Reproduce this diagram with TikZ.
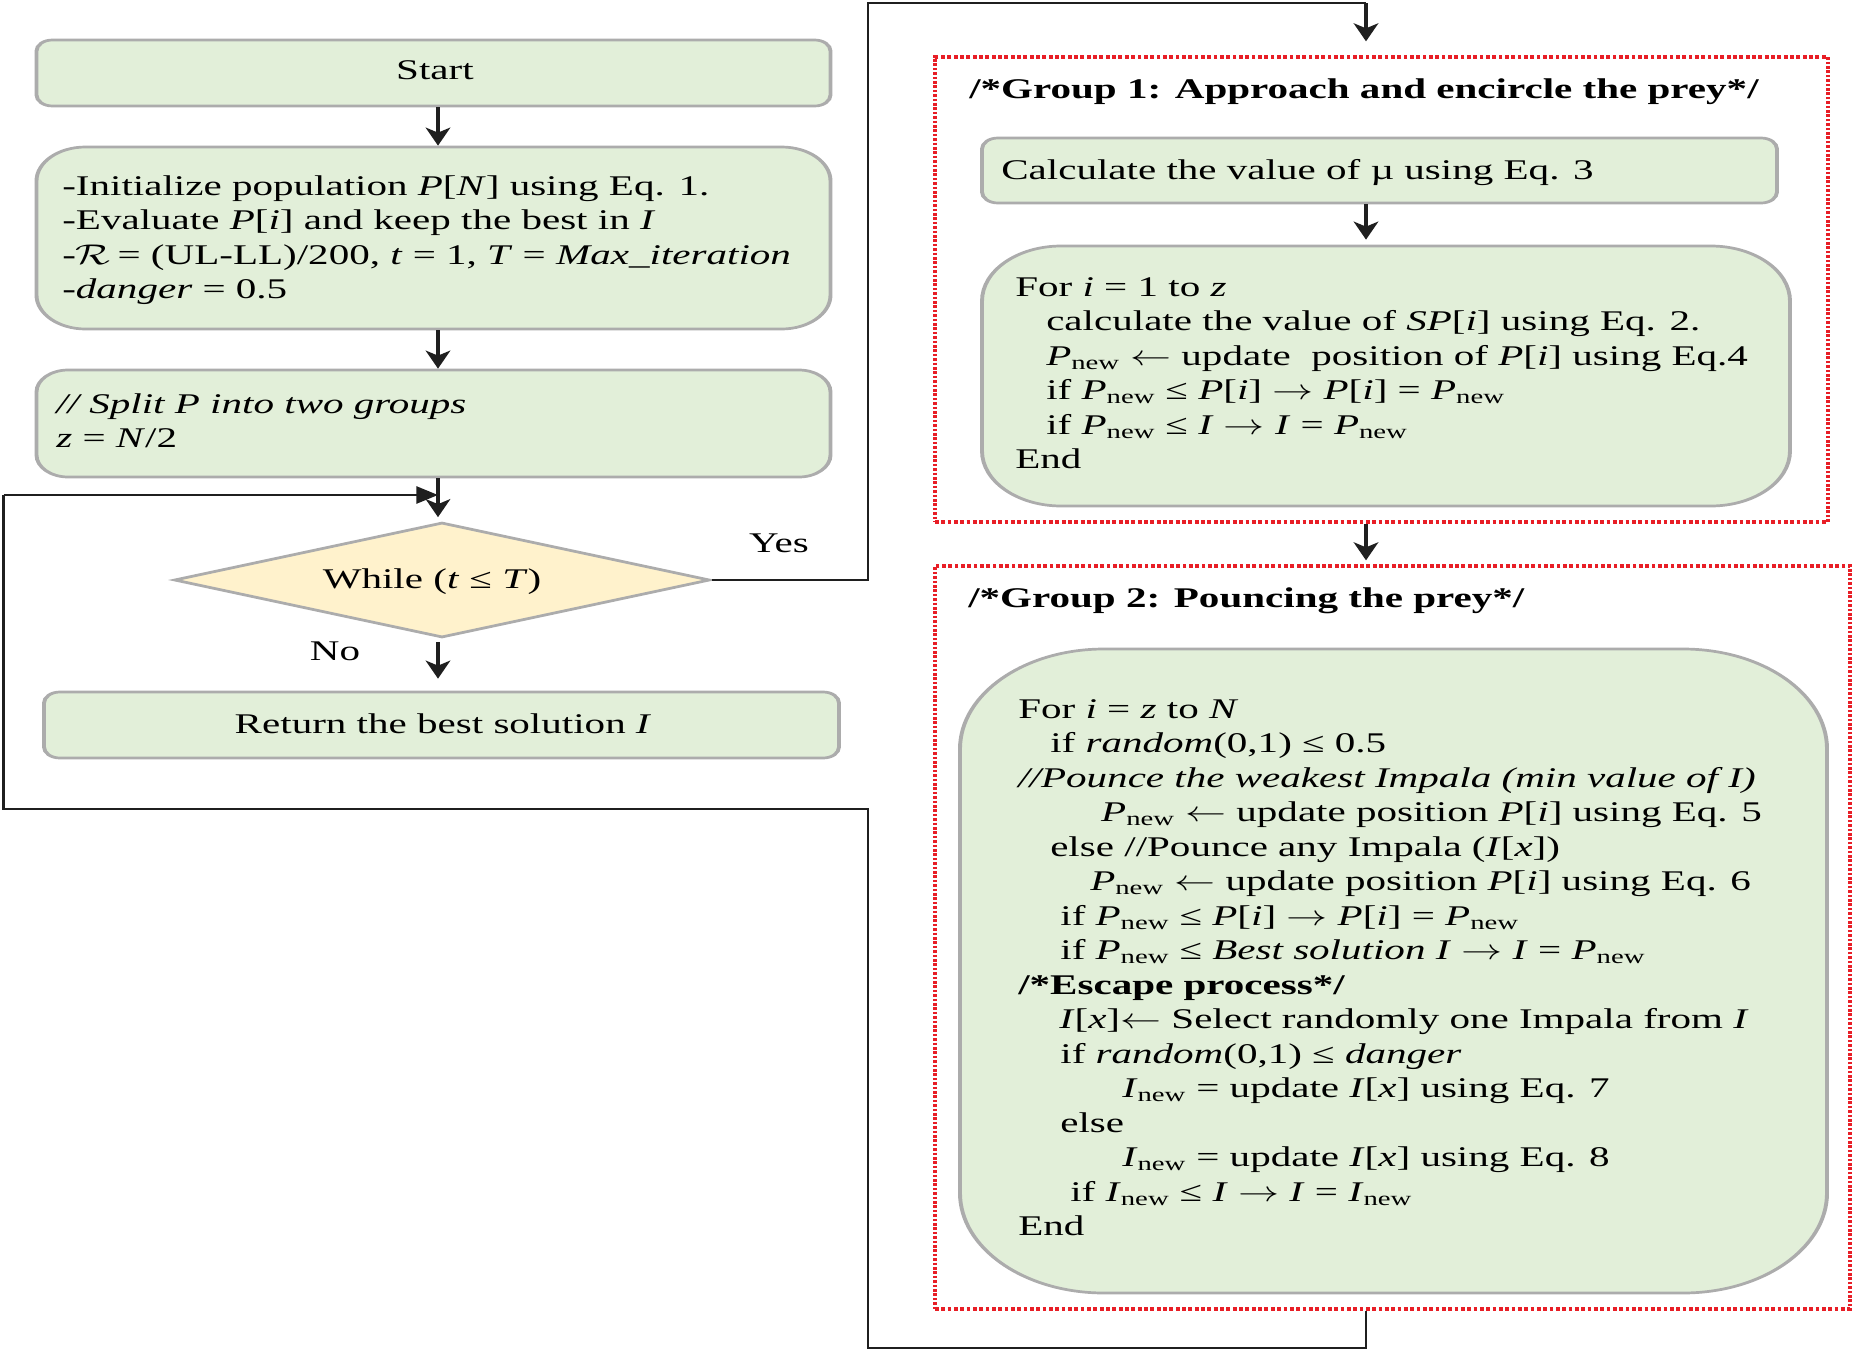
\RequirePackage{fix-cm}
\documentclass[tikz,border=0pt]{standalone}
\usepackage{fontspec}
\setmainfont{Liberation Serif}
\usetikzlibrary{arrows.meta,shapes.geometric}
\definecolor{boxfill}{RGB}{226,239,217}
\definecolor{boxline}{RGB}{172,172,172}
\definecolor{diafill}{RGB}{255,242,204}
\definecolor{dotred}{RGB}{232,30,38}
\newcommand{\vi}[1]{\textit{#1}}
\newcommand{\Pn}{\textit{P}\textsubscript{new}}
\newcommand{\In}{\textit{I}\textsubscript{new}}
\newcommand{\ind}[1]{\hspace*{#1pt}}
\newcommand{\ra}{$\rightarrow$}
\newcommand{\la}{$\leftarrow$}
\tikzset{
  box/.style={draw=boxline, line width=2.7pt, fill=boxfill, inner sep=0pt},
  txt/.style={inner sep=0pt, anchor=base west, align=left, font=\fontsize{28.5}{34.5}\selectfont},
  btxt/.style={inner sep=0pt, anchor=base west, align=left, font={\fontsize{28.5}{34.5}\selectfont\bfseries}},
  ctxt/.style={inner sep=0pt, anchor=base, font=\fontsize{28.5}{34.5}\selectfont},
  arr/.style={-{Stealth[length=18pt,width=17pt,inset=5pt]}, line width=2.8pt, draw=black!88, fill=black!88},
  looparr/.style={-{Triangle[length=15pt,width=17pt]}, line width=2.6pt, draw=black!88, fill=black!88},
  wire/.style={line width=1.6pt, draw=black!88},
  grp/.style={draw=dotred, line width=3.3pt, dash pattern=on 2.6pt off 1.8pt, inner sep=0pt},
}
\begin{document}
\begin{tikzpicture}[x=1pt,y=-1pt]
\path[use as bounding box, fill=white] (0,0) rectangle (1855,1352);
\begin{scope}[transform canvas={xscale=1.44}, x=0.69444pt]
% group frames
\node[grp, minimum width=620.1pt, minimum height=465pt] (red1) at (1381.5,289.5) {};
\node[grp, minimum width=635.4pt, minimum height=743pt] (red2) at (1392.5,937.5) {};
% left column
\node[box, rounded corners=11pt, minimum width=551.4pt, minimum height=66pt] (start) at (433.5,73) {};
\node[box, rounded corners=34pt, minimum width=551.4pt, minimum height=182pt] (init) at (433.5,238) {};
\node[box, rounded corners=22pt, minimum width=551.4pt, minimum height=107pt] (split) at (433.5,423.5) {};
\node[diamond, draw=boxline, line width=2.7pt, fill=diafill, inner sep=0pt, minimum width=372.2pt, minimum height=115pt] (dia) at (442,580) {};
\node[box, rounded corners=11pt, minimum width=552.1pt, minimum height=66pt] (ret) at (441.5,725) {};
% right column
\node[box, rounded corners=11pt, minimum width=552.1pt, minimum height=65pt] (calc) at (1379.5,170.5) {};
\node[box, rounded corners=55pt, minimum width=561.1pt, minimum height=260pt] (for1) at (1386,376) {};
\node[box, rounded corners=100pt, minimum width=602.1pt, minimum height=644pt] (for2) at (1393.5,971) {};
% texts (multi-line nodes: base = last line's baseline)
\node[ctxt] (startt) at (435,79) {Start};
\node[txt] (initt) at (62,298.5) {-Initialize population \vi{P}[\vi{N}] using Eq. 1.\\
-Evaluate \vi{P}[\vi{i}] and keep the best in \vi{I}\\
-$\mathcal{R}$\,= (UL-LL)/200, \vi{t} = 1, \vi{T} = \vi{Max\_iteration}\\
-\vi{danger} = 0.5};
\node[txt] (splitt) at (56,447.5) {\vi{// Split P into two groups}\\ \vi{z} = \vi{N}/2};
\node[ctxt] (diat) at (432,588) {While (\vi{t} ≤ \vi{T})};
\node[ctxt] (rett) at (443,733) {Return the best solution \vi{I}};
\node[ctxt] (yes) at (779,552) {Yes};
\node[ctxt] (no) at (335,660) {No};
\node[btxt] (g1) at (969,98) {/*Group 1: Approach and encircle the prey*/};
\node[txt] (calct) at (1001,179) {Calculate the value of µ using Eq. 3};
\node[txt] (for1t) at (1015,468.5) {For \vi{i} = 1 to \vi{z}\\
\ind{21.5}calculate the value of \vi{SP}[\vi{i}] using Eq. 2.\\
\ind{21.5}\Pn{} \la{} update\ \ position of \vi{P}[\vi{i}] using Eq.4\\
\ind{21.5}if \Pn{} ≤ \vi{P}[\vi{i}] \ra{} \vi{P}[\vi{i}] = \Pn\\
\ind{21.5}if \Pn{} ≤ \vi{I} \ra{} \vi{I} = \Pn\\
End};
\node[btxt] (g2) at (968,607) {/*Group 2: Pouncing the prey*/};
\node[txt] (for2t) at (1018,1235.5) {For \vi{i} = \vi{z} to \vi{N}\\
\ind{22.2}if \vi{random}(0,1) ≤ 0.5\\
\vi{//Pounce the weakest Impala (min value of I)}\\
\ind{57.6}\Pn{} \la{} update position \vi{P}[\vi{i}] using Eq. 5\\
\ind{22.2}else //Pounce any Impala (\vi{I}[\vi{x}])\\
\ind{50}\Pn{} \la{} update position \vi{P}[\vi{i}] using Eq. 6\\
\ind{29.2}if \Pn{} ≤ \vi{P}[\vi{i}] \ra{} \vi{P}[\vi{i}] = \Pn\\
\ind{29.2}if \Pn{} ≤ \vi{Best solution I} \ra{} \vi{I} = \Pn\\
\textbf{/*Escape process*/}\\
\ind{28.5}\vi{I}[\vi{x}]\la{} Select randomly one Impala from \vi{I}\\
\ind{29.2}if \vi{random}(0,1) ≤ \vi{danger}\\
\ind{72.2}\In{} = update \vi{I}[\vi{x}] using Eq. 7\\
\ind{29.2}else\\
\ind{72.2}\In{} = update \vi{I}[\vi{x}] using Eq. 8\\
\ind{36.1}if \In{} ≤ \vi{I} \ra{} \vi{I} = \In\\
End};
% connectors
\coordinate (cl) at (438,0);
\coordinate (cr) at (1366,0);
\coordinate (ytop) at (868,3);
\coordinate (lbot) at (868,1348);
\coordinate (lmid) at (868,809);
\coordinate (lleft) at (3.5,809);
\coordinate (lup) at (3.5,495);
\draw[arr] (start.south -| cl) -- (init.north -| cl);
\draw[arr] (init.south -| cl) -- (split.north -| cl);
\draw[arr, shorten >=4pt] (split.south -| cl) -- (dia.north -| cl);
\draw[arr, shorten <=3pt, shorten >=12pt] (dia.south -| cl) -- (ret.north -| cl);
\draw[wire] (dia.east) -| (ytop) -- (ytop -| cr);
\draw[arr, shorten >=14pt] (ytop -| cr) -- (red1.north -| cr);
\draw[arr, shorten >=5pt] (calc.south -| cr) -- (for1.north -| cr);
\draw[arr, shorten >=4pt] (red1.south -| cr) -- (red2.north -| cr);
\draw[wire] (red2.south -| cr) |- (lbot) -- (lmid) -- (lleft) -- (lup);
\draw[looparr] (lup) -- (lup -| cl);
\end{scope}
\end{tikzpicture}
\end{document}
